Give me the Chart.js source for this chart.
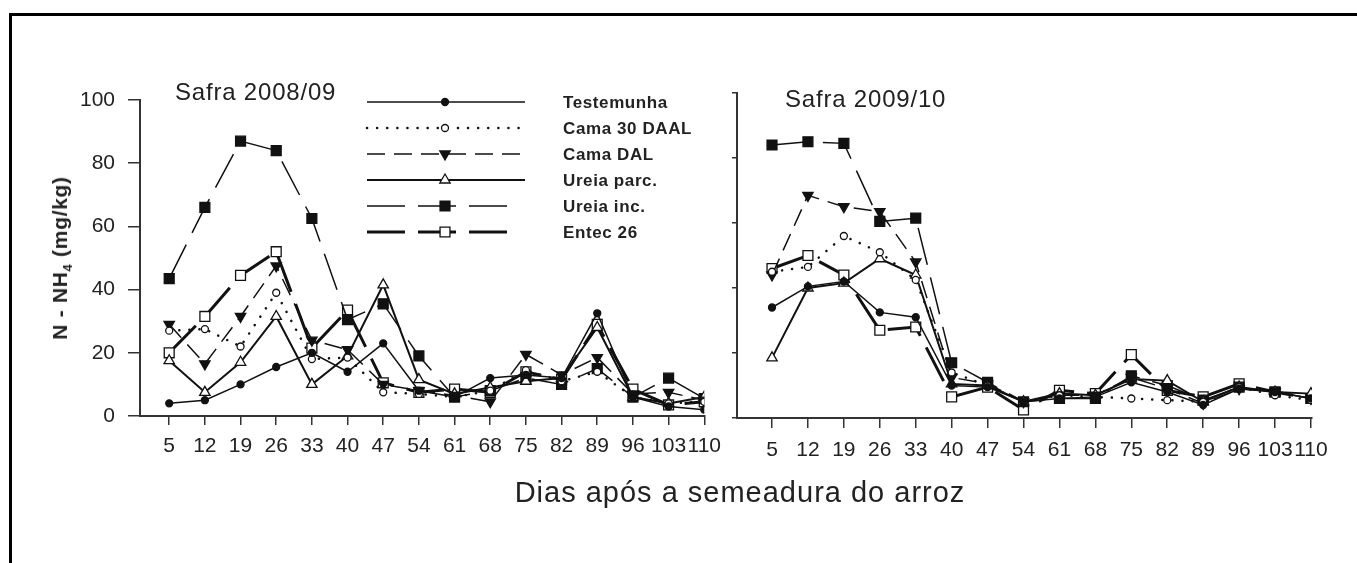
<!DOCTYPE html>
<html>
<head>
<meta charset="utf-8">
<script src="https://cdn.jsdelivr.net/npm/chart.js@4.4.1/dist/chart.umd.min.js"></script>
<style>
  html, body { margin:0; padding:0; background:#fff; width:1357px; height:563px; overflow:hidden; }
  #frame { position:absolute; left:9px; top:13px; width:2000px; height:2000px; border-left:3px solid #000; border-top:3px solid #000; }
  canvas { position:absolute; top:0; }
  #c1 { left:0; }
  #c2 { left:700px; }
  .txt { position:absolute; font-family:"Liberation Sans", Arial, sans-serif; color:#222; white-space:nowrap; }
</style>
</head>
<body>
<div id="frame"></div>
<canvas id="c1" width="730" height="563"></canvas>
<canvas id="c2" width="657" height="563"></canvas>
<div class="txt" style="left:175px; top:80px; font-size:24px; line-height:24px; letter-spacing:0.8px;">Safra 2008/09</div>
<div class="txt" style="left:785px; top:87px; font-size:24px; line-height:24px; letter-spacing:0.8px;">Safra 2009/10</div>
<div class="txt" style="left:61px; top:258px; font-size:21px; line-height:21px; font-weight:bold; letter-spacing:0.7px; transform:translate(-50%,-50%) rotate(-90deg);">N - NH<span style="font-size:13px; position:relative; top:5px;">4</span> (mg/kg)</div>
<div class="txt" style="left:740px; top:478px; font-size:29px; line-height:29px; letter-spacing:1px; transform:translateX(-50%);">Dias após a semeadura do arroz</div>

<script>
// dias apos a semeadura
const dias = [5, 12, 19, 26, 33, 40, 47, 54, 61, 68, 75, 82, 89, 96, 103, 110];
const tratamentos = ["Testemunha", "Cama 30 DAAL", "Cama DAL", "Ureia parc.", "Ureia inc.", "Entec 26"];
const yTicks = [0, 20, 40, 60, 80, 100];

// safra 2008/09
const testemunha0809 = [4, 5, 10, 15.5, 20, 14, 23, 8, 6, 12, 13, 12, 32.5, 6, 3, 2];
const cama30_0809    = [27, 27.5, 22, 39, 18, 18.5, 7.5, 7, 6, 8, 14.5, 11, 14, 6, 4, 4.5];
const camaDal0809    = [29, 16.5, 31.5, 47.5, 24, 21, 10, 8, 6.5, 4.5, 19.5, 13, 18.5, 7, 7.5, 5];
const ureiaParc0809  = [17.5, 7.5, 17, 31.5, 10, 19, 41.5, 11.5, 7, 9, 11, 12, 28, 6, 4, 6];
const ureiaInc0809   = [43.5, 66, 87, 84, 62.5, 30.5, 35.5, 19, 6, 8, 12, 10, 15, 6, 12, 5.5];
const entec0809      = [20, 31.5, 44.5, 52, 21.5, 33.5, 10.5, 7.5, 8.5, 7.5, 14, 11.5, 29, 8.5, 3.5, 4.5];

// safra 2009/10
const testemunha0910 = [34, 40.5, 42, 32.5, 31, 10, 9.5, 5, 6, 6.5, 11, 8, 4, 9, 8, 6];
const cama30_0910    = [45, 46.5, 56, 51, 42.5, 14, 10, 5, 7, 6.5, 6, 5.5, 5, 9.5, 7, 5.5];
const camaDal0910    = [44, 68.5, 65, 63.5, 48, 12.5, 10.5, 5, 7, 7, 12.5, 9, 4.5, 9, 8, 6];
const ureiaParc0910  = [18.5, 40, 41.5, 49, 44, 10.5, 10, 5, 7.5, 7, 12, 11.5, 5, 9.5, 8, 7.5];
const ureiaInc0910   = [84, 85, 84.5, 60.5, 61.5, 17, 11, 5, 6, 6, 13, 10, 5.5, 9.5, 8, 6];
const entec0910      = [46, 50, 44, 27, 28, 6.5, 9.5, 2.5, 8.5, 7.5, 19.5, 8.5, 6.5, 10.5, 8, 6];

const FONT = '"Liberation Sans", Arial, sans-serif';
const INK = "#111";

// line + marker style per treatment
const estilos = [
  { borderWidth: 1.5, borderDash: [], pointStyle: "circle", pointRadius: 3.5, fill: INK, rot: 0 },
  { borderWidth: 2.5, borderDash: [0.1, 10], cap: "round", pointStyle: "circle", pointRadius: 3.5, fill: "#fff", rot: 0 },
  { borderWidth: 1.5, borderDash: [18, 9], pointStyle: "triangle", pointRadius: 6, fill: INK, rot: 180 },
  { borderWidth: 2, borderDash: [], pointStyle: "triangle", pointRadius: 6, fill: "#fff", rot: 0 },
  { borderWidth: 1.5, borderDash: [38, 13], pointStyle: "rect", pointRadius: 7, fill: INK, rot: 0 },
  { borderWidth: 3, borderDash: [38, 13], pointStyle: "rect", pointRadius: 7, fill: "#fff", rot: 0 }
];

function buildDatasets(series) {
  return series.map((vals, i) => {
    const e = estilos[i];
    return {
      label: tratamentos[i],
      data: vals.map((v, k) => ({ x: dias[k], y: v })),
      borderColor: INK,
      borderWidth: e.borderWidth,
      borderDash: e.borderDash,
      borderCapStyle: e.cap || "butt",
      pointStyle: e.pointStyle,
      pointRadius: e.pointRadius,
      pointRotation: e.rot,
      pointBackgroundColor: e.fill,
      pointBorderColor: INK,
      pointBorderWidth: 1.3,
      tension: 0,
      fill: false
    };
  });
}

function drawMarker(ctx, ds, x, y) {
  ctx.fillStyle = ds.pointBackgroundColor;
  ctx.strokeStyle = ds.pointBorderColor;
  ctx.lineWidth = ds.pointBorderWidth;
  Chart.helpers.drawPoint(ctx, { pointStyle: ds.pointStyle, radius: ds.pointRadius, rotation: ds.pointRotation, borderWidth: ds.pointBorderWidth }, x, y);
}

// legend drawn inside the left panel
const legenda = {
  id: "legenda",
  afterDatasetsDraw(chart) {
    const ctx = chart.ctx;
    chart.data.datasets.forEach((ds, i) => {
      const y = 102 + i * 26;
      const x1 = i >= 4 ? 508 : 525;
      ctx.save();
      ctx.strokeStyle = INK;
      ctx.lineWidth = ds.borderWidth;
      ctx.lineCap = ds.borderCapStyle;
      ctx.setLineDash(ds.borderDash);
      ctx.beginPath();
      ctx.moveTo(367, y);
      ctx.lineTo(x1, y);
      ctx.stroke();
      ctx.setLineDash([]);
      ctx.lineCap = "butt";
      drawMarker(ctx, ds, 445, y);
      ctx.fillStyle = "#222";
      ctx.font = "bold 17px " + FONT;
      ctx.letterSpacing = "0.6px";
      ctx.textBaseline = "middle";
      ctx.fillText(ds.label, 563, y + 1);
      ctx.restore();
    });
  }
};

function xAxis(min, max, height, tickLen, pad) {
  return {
    type: "linear", min: min, max: max,
    afterBuildTicks: s => { s.ticks = dias.map(v => ({ value: v })); },
    afterFit: s => { s.height = height; },
    ticks: { autoSkip: false, maxRotation: 0, padding: pad, color: "#222", font: { family: FONT, size: 21 } },
    grid: { drawOnChartArea: false, drawTicks: true, tickLength: tickLen, color: "#333", lineWidth: 1.5 },
    border: { color: "#333", width: 2 }
  };
}

function yAxis(width, tickLen, labels) {
  return {
    min: 0, max: 100,
    afterBuildTicks: s => { s.ticks = yTicks.map(v => ({ value: v })); },
    afterFit: s => { s.width = width; },
    ticks: { padding: 13, color: "#222", font: { family: FONT, size: 21 }, callback: v => labels ? v : "" },
    grid: { drawOnChartArea: false, drawTicks: true, tickLength: tickLen, color: "#333", lineWidth: 1.5 },
    border: { color: "#333", width: 2 }
  };
}

const baseOpts = {
  responsive: false,
  animation: false,
  events: [],
  plugins: { legend: { display: false }, tooltip: { enabled: false } }
};

new Chart(document.getElementById("c1"), {
  type: "line",
  data: { datasets: buildDatasets([testemunha0809, cama30_0809, camaDal0809, ureiaParc0809, ureiaInc0809, entec0809]) },
  options: Object.assign({}, baseOpts, {
    layout: { padding: { left: 0, top: 100, right: 10, bottom: 0 } },
    scales: { x: xAxis(-0.73, 110, 147, 9, 9), y: yAxis(140, 12, true) }
  }),
  plugins: [legenda]
});

new Chart(document.getElementById("c2"), {
  type: "line",
  data: { datasets: buildDatasets([testemunha0910, cama30_0910, camaDal0910, ureiaParc0910, ureiaInc0910, entec0910]) },
  options: Object.assign({}, baseOpts, {
    layout: { padding: { left: 0, top: 93, right: 45, bottom: 0 } },
    scales: { x: xAxis(-1.82, 110.2, 145, 10, 10), y: yAxis(37, 5, false) }
  })
});
</script>
</body>
</html>
